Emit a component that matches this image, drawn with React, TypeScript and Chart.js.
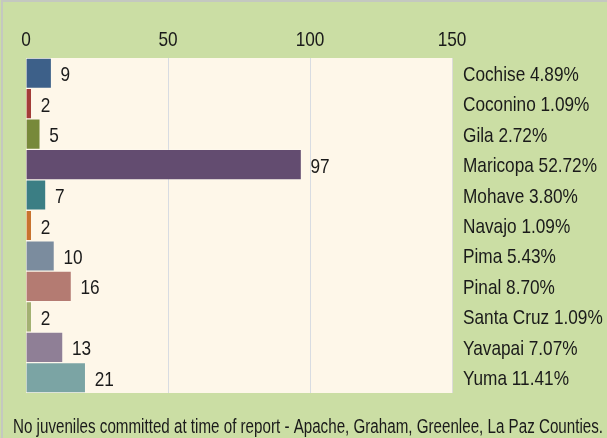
import React, { useEffect, useRef } from "react";
import { Chart, registerables } from "chart.js";

Chart.register(...registerables);

const counties = ["Cochise", "Coconino", "Gila", "Maricopa", "Mohave", "Navajo", "Pima", "Pinal", "Santa Cruz", "Yavapai", "Yuma"];
const committed = [9, 2, 5, 97, 7, 2, 10, 16, 2, 13, 21];
const percentLabels = ["4.89%", "1.09%", "2.72%", "52.72%", "3.80%", "1.09%", "5.43%", "8.70%", "1.09%", "7.07%", "11.41%"];
const barColors = ["#3d6089", "#a33d38", "#77893a", "#634c70", "#3b7e84", "#c8732f", "#7b8c9e", "#b47b72", "#a3b172", "#8f7f96", "#7ba4a4"];
const axisTicks = [0, 50, 100, 150];
const footnote = "No juveniles committed at time of report - Apache, Graham, Greenlee, La Paz Counties.";

const FONT = "'Liberation Sans', Arial, sans-serif";
const NARROW = 0.82;
const TEXT = "#1a1a1a";

function narrowText(
  ctx: CanvasRenderingContext2D,
  text: string,
  x: number,
  y: number,
  size: number,
  align: "left" | "center",
  fitWidth?: number
) {
  ctx.save();
  ctx.font = `${size}px ${FONT}`;
  ctx.fillStyle = TEXT;
  ctx.textBaseline = "alphabetic";
  ctx.textAlign = "left";
  const raw = ctx.measureText(text).width;
  const sx = fitWidth ? fitWidth / raw : NARROW;
  const w = raw * sx;
  const x0 = align === "center" ? x - w / 2 : x;
  ctx.translate(x0, y);
  ctx.scale(sx, 1);
  ctx.fillText(text, 0, 0);
  ctx.restore();
}

const bgPlugin = {
  id: "bgPlugin",
  beforeDraw(chart: any) {
    const { ctx, chartArea, width, height } = chart;
    ctx.save();
    ctx.fillStyle = "#cbdea4";
    ctx.fillRect(0, 0, width, height);
    ctx.strokeStyle = "#c4c8c0";
    ctx.lineWidth = 2;
    ctx.beginPath();
    ctx.moveTo(2, height);
    ctx.lineTo(2, 1);
    ctx.lineTo(width, 1);
    ctx.stroke();
    ctx.fillStyle = "#fef7e9";
    ctx.fillRect(chartArea.left, chartArea.top, chartArea.right - chartArea.left, chartArea.bottom - chartArea.top);
    ctx.restore();
  },
  afterDraw(chart: any) {
    const { ctx, chartArea, scales } = chart;
    ctx.save();
    ctx.strokeStyle = "#dcdcd8";
    ctx.lineWidth = 1;
    ctx.beginPath();
    ctx.moveTo(chartArea.right + 0.5, chartArea.top);
    ctx.lineTo(chartArea.right + 0.5, chartArea.bottom);
    ctx.stroke();
    ctx.restore();
    axisTicks.forEach((v) => {
      narrowText(ctx, String(v), scales.x.getPixelForValue(v), 46, 21, "center");
    });
    counties.forEach((c, i) => {
      const y = scales.y.getPixelForValue(i);
      narrowText(ctx, `${c} ${percentLabels[i]}`, chartArea.right + 11, y + 7.5, 21, "left");
    });
    const meta = chart.getDatasetMeta(0);
    meta.data.forEach((el: any, i: number) => {
      narrowText(ctx, String(committed[i]), el.x + 9, el.y + 8, 21, "left");
    });
    narrowText(ctx, footnote, 13, 433, 19.5, "left", 590);
  },
};

export default function App() {
  const ref = useRef<HTMLCanvasElement>(null);
  useEffect(() => {
    if (!ref.current) return;
    const chart = new Chart(ref.current, {
      type: "bar",
      data: {
        labels: counties.map((c, i) => `${c} ${percentLabels[i]}`),
        datasets: [
          {
            data: committed,
            backgroundColor: barColors,
            borderColor: "rgba(255,255,255,0.15)",
            borderWidth: 1,
            barPercentage: 1,
            categoryPercentage: 1,
          },
        ],
      },
      options: {
        indexAxis: "y",
        responsive: false,
        animation: false,
        layout: { padding: { left: 26, top: 0, right: 0, bottom: 45 } },
        plugins: { legend: { display: false }, tooltip: { enabled: false } },
        scales: {
          x: {
            position: "top",
            min: 0,
            max: 150,
            ticks: { stepSize: 50, display: false },
            grid: { color: (c: any) => (c.tick && c.tick.value > 0 && c.tick.value < 150 ? "#d8dce2" : "rgba(0,0,0,0)"), drawTicks: false },
            border: { display: false },
            afterFit: (s: any) => {
              s.height = 58;
            },
          },
          y: {
            position: "right",
            ticks: { display: false },
            grid: { display: false, drawTicks: false },
            border: { display: false },
            afterFit: (s: any) => {
              s.width = 155;
            },
          },
        },
      },
      plugins: [bgPlugin],
    });
    return () => chart.destroy();
  }, []);
  return (
    <div style={{ position: "absolute", left: 0, top: 0 }}>
      <canvas ref={ref} width={607} height={438} />
    </div>
  );
}
